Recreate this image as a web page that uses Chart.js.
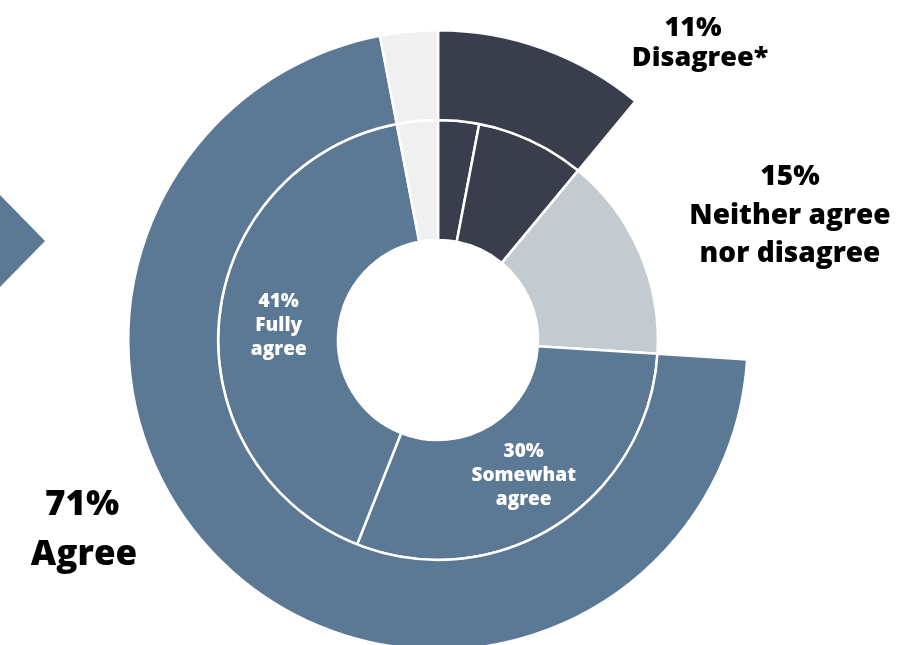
<!DOCTYPE html>
<html>
<head>
<meta charset="utf-8">
<script src="https://cdn.jsdelivr.net/npm/chart.js@4.4.1/dist/chart.umd.min.js"></script>
<style>
  html, body { margin: 0; padding: 0; background: #fff; overflow: hidden; }
  #wrap { position: absolute; left: 0; top: 0; width: 922px; height: 660px; }
</style>
</head>
<body>
<div id="wrap"><canvas id="myChart" width="922" height="660"></canvas></div>
<script>
// inner ring: answer detail
var innerLabels = ['Strongly disagree', 'Somewhat disagree', 'Neither agree nor disagree', 'Somewhat agree', 'Fully agree', 'No answer'];
var innerValues = [3, 8, 15, 30, 41, 3];
var innerColors = ['#3a3d4b', '#3a3d4b', '#c3cbd0', '#5b7895', '#5b7895', '#f0f0f0'];

// outer ring: grouped answers (neither group is left empty)
var outerLabels = ['Disagree*', 'Neither agree nor disagree', 'Agree', 'No answer'];
var outerValues = [11, 15, 71, 3];
var outerColors = ['#3a3d4b', 'rgba(0,0,0,0)', '#5b7895', '#f0f0f0'];

// text shown inside the inner ring
var innerText = { 3: ['30%', 'Somewhat', 'agree'], 4: ['41%', 'Fully', 'agree'] };

var FONT = '"Open Sans", "Noto Sans", sans-serif';

var decoPlugin = {
    id: 'deco',
    beforeDraw: function (chart) {
        var ctx = chart.ctx;
        // arrow shape on the left edge
        ctx.save();
        ctx.fillStyle = '#5b7895';
        ctx.beginPath();
        ctx.moveTo(0, 195);
        ctx.lineTo(45, 241);
        ctx.lineTo(0, 287);
        ctx.closePath();
        ctx.fill();
        ctx.restore();
    },
    afterDraw: function (chart) {
        var ctx = chart.ctx;
        ctx.save();
        ctx.textAlign = 'center';
        ctx.textBaseline = 'alphabetic';

        // labels inside the inner ring, at each arc's centre
        var arcs = chart.getDatasetMeta(1).data;
        ctx.fillStyle = '#ffffff';
        ctx.font = '800 19px ' + FONT;
        Object.keys(innerText).forEach(function (i) {
            var p = arcs[i].tooltipPosition();
            var lines = innerText[i];
            var lh = 24;
            var y0 = p.y - (lines.length - 1) * lh / 2 + 6;
            lines.forEach(function (t, k) {
                ctx.fillText(t, p.x, y0 + k * lh);
            });
        });

        // outside labels
        ctx.fillStyle = '#000000';
        ctx.font = '800 27px ' + FONT;
        ctx.fillText(outerValues[0] + '%', 693, 36);
        ctx.fillText(outerLabels[0], 700, 66);

        ctx.font = '800 28px ' + FONT;
        ctx.fillText(outerValues[1] + '%', 790, 185);
        ctx.fillText('Neither agree', 790, 224);
        ctx.fillText('nor disagree', 790, 262);

        ctx.font = '800 35px ' + FONT;
        ctx.fillText(outerValues[2] + '%', 82, 515);
        ctx.fillText(outerLabels[2], 84, 565);
        ctx.restore();
    }
};

var ctx = document.getElementById('myChart').getContext('2d');
var myChart = new Chart(ctx, {
    type: 'doughnut',
    data: {
        labels: innerLabels,
        datasets: [{
            label: 'Grouped',
            data: outerValues,
            backgroundColor: outerColors,
            borderColor: '#ffffff',
            borderWidth: [2.5, 0, 2.5, 2.5],
            weight: 90
        }, {
            label: 'Detail',
            data: innerValues,
            backgroundColor: innerColors,
            borderColor: '#ffffff',
            borderWidth: 2.5,
            weight: 120
        }]
    },
    options: {
        responsive: false,
        animation: false,
        cutout: '32.3%',
        layout: { padding: { left: 127, right: 173, top: 29, bottom: 9 } },
        plugins: {
            legend: { display: false },
            tooltip: { enabled: false }
        }
    },
    plugins: [decoPlugin]
});
</script>
</body>
</html>
